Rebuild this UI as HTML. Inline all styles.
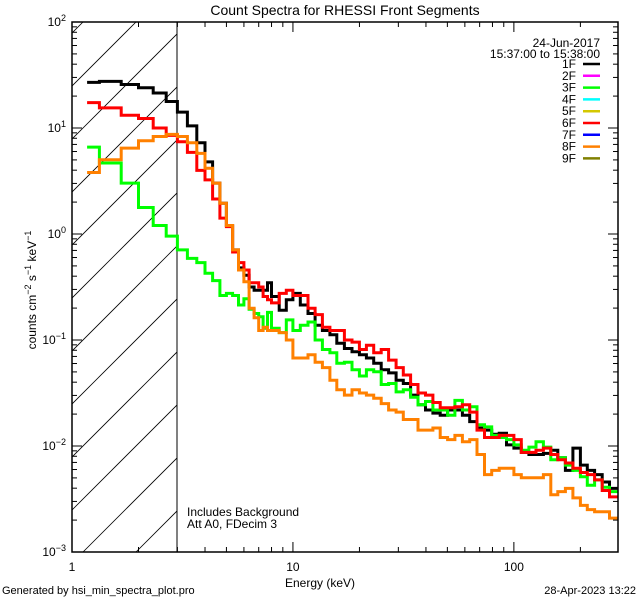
<!DOCTYPE html>
<html>
<head>
<meta charset="utf-8">
<style>
html,body{margin:0;padding:0;background:#fff;}
svg{display:block;}
text{font-family:"Liberation Sans",sans-serif;fill:#000;}
</style>
</head>
<body>
<svg id="chart" width="640" height="600" viewBox="0 0 640 600" xmlns="http://www.w3.org/2000/svg">
  <defs>
    <clipPath id="plotclip"><rect x="72" y="22" width="546" height="530"/></clipPath>
    <clipPath id="hatchclip"><rect x="72" y="22" width="105" height="530"/></clipPath>
  </defs>
  <rect x="0" y="0" width="640" height="600" fill="#fff"/>
  <text x="345" y="15" font-size="14" text-anchor="middle">Count Spectra for RHESSI Front Segments</text>
  <g id="hatch" clip-path="url(#hatchclip)"></g>
  <line x1="177" y1="22" x2="177" y2="552" stroke="#000" stroke-width="1"/>
  <g id="series" clip-path="url(#plotclip)"></g>
  <rect x="72" y="22" width="546" height="530" fill="none" stroke="#000" stroke-width="1.5"/>
  <g id="axes"></g>
  <text x="320" y="587" font-size="12" text-anchor="middle">Energy (keV)</text>
  <text transform="translate(36,290) rotate(-90)" font-size="12" text-anchor="middle">counts cm<tspan dy="-5" font-size="9">−2</tspan><tspan dy="5"> s</tspan><tspan dy="-5" font-size="9">−1</tspan><tspan dy="5"> keV</tspan><tspan dy="-5" font-size="9">−1</tspan></text>
  <text x="187" y="516" font-size="12">Includes Background</text>
  <text x="187" y="528" font-size="12">Att A0, FDecim 3</text>
  <text x="600" y="47" font-size="12" text-anchor="end">24-Jun-2017</text>
  <text x="600" y="58" font-size="12" text-anchor="end">15:37:00 to 15:38:00</text>
  <g id="legend"></g>
  <text x="2" y="594" font-size="11">Generated by hsi_min_spectra_plot.pro</text>
  <text x="636" y="594" font-size="11" text-anchor="end">28-Apr-2023 13:22</text>
</svg>
<script>
// Energy bin edges (keV)
var binEdges = [1.17,1.33,1.67,2.0,2.33,2.67,3.0,3.33,3.67,4.0,4.33,4.67,5.0,5.33,5.67,6.0,6.33,6.67,7.0,7.33,7.67,8.0,8.67,9.33,10.0,
10.8,11.7,12.6,13.6,14.7,15.8,17.1,18.5,20,21.5,23.2,25.1,27.1,29.3,31.6,34.1,36.8,39.8,43,46.4,50.1,54.1,58.5,63.1,68.1,73.6,79.4,85.8,92.6,100,
108,117,126,136,147,158,171,185,200,215,232,251,271,296];
// log10(counts cm^-2 s^-1 keV^-1) per bin
var log10Counts1F = [1.43,1.44,1.41,1.38,1.33,1.25,1.15,1.02,0.86,0.68,0.48,0.29,0.08,-0.15,-0.32,-0.39,-0.50,-0.53,-0.53,-0.53,-0.46,-0.59,-0.72,-0.62,
-0.56,-0.67,-0.75,-0.86,-0.91,-0.95,-1.03,-1.08,-1.11,-1.14,-1.17,-1.22,-1.28,-1.31,-1.38,-1.41,-1.52,-1.61,-1.66,-1.69,-1.71,-1.66,-1.66,
-1.71,-1.77,-1.83,-1.85,-1.89,-1.88,-1.99,-2.02,-2.06,-2.08,-2.08,-2.07,-2.04,-2.11,-2.23,-2.02,-2.18,-2.23,-2.27,-2.34,-2.40];
var log10Counts3F = [0.82,0.67,0.48,0.25,0.08,-0.02,-0.15,-0.23,-0.27,-0.37,-0.44,-0.58,-0.56,-0.58,-0.67,-0.61,-0.71,-0.75,-0.78,-0.89,-0.74,-0.89,-0.93,-0.81,
-0.91,-0.86,-0.83,-1.00,-1.09,-1.12,-1.22,-1.21,-1.28,-1.34,-1.28,-1.30,-1.42,-1.41,-1.49,-1.47,-1.54,-1.61,-1.58,-1.66,-1.66,-1.71,-1.57,-1.66,-1.63,-1.80,-1.82,-1.90,-1.92,-1.94,-1.99,-2.04,-2.01,-1.96,-2.01,-2.13,-2.11,-2.18,-2.23,-2.29,-2.37,-2.32,-2.39,-2.43];
var log10Counts6F = [1.24,1.19,1.12,1.09,1.00,0.93,0.87,0.77,0.60,0.51,0.33,0.15,0.07,-0.17,-0.27,-0.34,-0.46,-0.46,-0.50,-0.59,-0.62,-0.65,-0.56,-0.53,
-0.58,-0.58,-0.70,-0.76,-0.88,-0.91,-0.91,-1.00,-1.02,-1.09,-1.05,-1.12,-1.09,-1.19,-1.26,-1.33,-1.42,-1.50,-1.52,-1.59,-1.64,-1.64,
-1.63,-1.61,-1.68,-1.85,-1.92,-1.92,-1.90,-1.90,-1.94,-2.06,-2.06,-2.04,-2.02,-2.08,-2.13,-2.16,-2.21,-2.25,-2.27,-2.32,-2.42,-2.48];
var log10Counts8F = [0.58,0.70,0.81,0.88,0.92,0.94,0.92,0.86,0.76,0.62,0.48,0.29,0.08,-0.15,-0.34,-0.45,-0.70,-0.79,-0.91,-0.88,-0.91,-0.91,-0.93,-1.00,
-1.17,-1.17,-1.14,-1.21,-1.26,-1.38,-1.47,-1.52,-1.47,-1.50,-1.52,-1.55,-1.60,-1.66,-1.68,-1.75,-1.75,-1.85,-1.85,-1.83,-1.92,-1.94,-1.90,-1.96,-1.94,-2.08,-2.27,-2.23,-2.21,-2.21,-2.27,-2.30,-2.30,-2.30,-2.27,-2.46,-2.43,-2.40,-2.49,-2.56,-2.60,-2.62,-2.62,-2.68];
var legendLabels = ["1F","2F","3F","4F","5F","6F","7F","8F","9F"];
var legendColors = ["#000000","#ff00ff","#00ff00","#00ffff","#d4c800","#ff0000","#0000ff","#ff8000","#808000"];
var xTickValues = [1,10,100];
var xTickLabels = ["1","10","100"];
var yTickExponents = [2,1,0,-1,-2,-3];

var NS = "http://www.w3.org/2000/svg";
var X0 = 72, X1 = 618, Y0 = 22, Y1 = 552;
var xMinLog = 0, xMaxLog = Math.log10(296);
var yMinLog = -3, yMaxLog = 2;
function xScale(e){ return X0 + (Math.log10(e) - xMinLog) / (xMaxLog - xMinLog) * (X1 - X0); }
function yScaleLog(l){ return Y1 - (l - yMinLog) / (yMaxLog - yMinLog) * (Y1 - Y0); }
function mk(tag, attrs, parent){
  var el = document.createElementNS(NS, tag);
  for (var k in attrs) el.setAttribute(k, attrs[k]);
  parent.appendChild(el);
  return el;
}

// hatch
var hatch = document.getElementById("hatch");
for (var c = 105 - 53*4; c < 800; c += 53) {
  var hl = mk("line", {x1: c - 552, y1: 552, x2: c - 22, y2: 22, stroke: "#000", "stroke-width": 0.8}, hatch);
  
  
}

// series
var seriesG = document.getElementById("series");
function drawSeries(vals, color, name){
  var d = "";
  for (var i = 0; i < vals.length; i++) {
    var xa = xScale(binEdges[i]).toFixed(1), xb = xScale(binEdges[i+1]).toFixed(1);
    var y = yScaleLog(vals[i]).toFixed(1);
    d += (i === 0 ? "M" : "L") + xa + "," + y + "L" + xb + "," + y;
  }
  var p = mk("path", {d: d, fill: "none", stroke: color, "stroke-width": 3, "stroke-linejoin": "miter"}, seriesG);
  
  
}
drawSeries(log10Counts1F, "#000000", "series-1f");
drawSeries(log10Counts3F, "#00ff00", "series-3f");
drawSeries(log10Counts6F, "#ff0000", "series-6f");
drawSeries(log10Counts8F, "#ff8000", "series-8f");

// axes
var axes = document.getElementById("axes");
for (var dec = 0; dec <= 2; dec++) {
  for (var m = 1; m <= 9; m++) {
    var e = m * Math.pow(10, dec);
    if (e > 296) break;
    var x = xScale(e);
    var len = (m === 1) ? 10 : 5;
    var t1 = mk("line", {x1: x, y1: Y1, x2: x, y2: Y1 - len, stroke: "#000", "stroke-width": 1}, axes);
    
    
    var t2 = mk("line", {x1: x, y1: Y0, x2: x, y2: Y0 + len, stroke: "#000", "stroke-width": 1}, axes);
    
    
  }
}
for (var i = 0; i < xTickValues.length; i++) {
  var tl = mk("text", {x: xScale(xTickValues[i]), y: 571, "font-size": 12, "text-anchor": "middle"}, axes);
  tl.textContent = xTickLabels[i];
  
  
}
for (var ex = -3; ex < 2; ex++) {
  for (var m = 1; m <= 9; m++) {
    var y = yScaleLog(ex + Math.log10(m));
    var len = (m === 1) ? 10 : 5;
    var a = mk("line", {x1: X0, y1: y, x2: X0 + len, y2: y, stroke: "#000", "stroke-width": 1}, axes);
    
    
    var b = mk("line", {x1: X1, y1: y, x2: X1 - len, y2: y, stroke: "#000", "stroke-width": 1}, axes);
    
    
  }
}
for (var i = 0; i < yTickExponents.length; i++) {
  var y = yScaleLog(yTickExponents[i]);
  var t = mk("text", {x: 66, y: y + 4, "font-size": 12, "text-anchor": "end"}, axes);
  
  
  var base = document.createElementNS(NS, "tspan");
  base.textContent = "10";
  t.appendChild(base);
  var sup = document.createElementNS(NS, "tspan");
  sup.setAttribute("dy", "-5");
  sup.setAttribute("font-size", "9");
  sup.textContent = String(yTickExponents[i]).replace("-", "−");
  t.appendChild(sup);
}

// legend
var legend = document.getElementById("legend");
for (var i = 0; i < legendLabels.length; i++) {
  var ly = 64 + i * 11.8;
  var g = mk("g", {}, legend);
  
  
  var lt = mk("text", {x: 576, y: ly + 4, "font-size": 12, "text-anchor": "end"}, g);
  lt.textContent = legendLabels[i];
  
  
  var ll = mk("line", {x1: 583, y1: ly, x2: 600, y2: ly, stroke: legendColors[i], "stroke-width": 2.5}, g);
  
  
}
</script>
</body>
</html>
